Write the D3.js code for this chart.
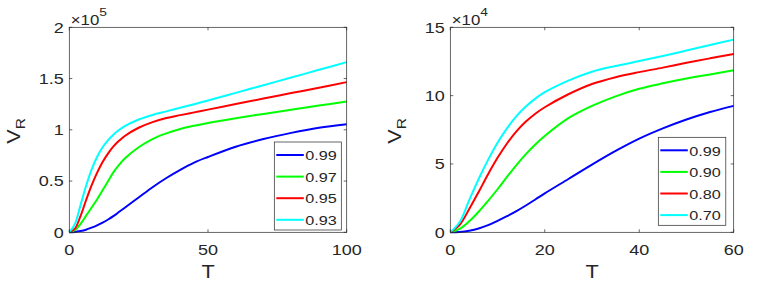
<!DOCTYPE html>
<html>
<head>
<meta charset="utf-8">
<script src="https://cdn.jsdelivr.net/npm/d3@7"></script>
<style>
  body { margin: 0; background: #fff; }
  svg text { font-family: "Liberation Sans", Arial, sans-serif; fill: #262626; }
</style>
</head>
<body>
<svg id="chart" width="762" height="286"></svg>
<script>
// left panel, values in units of 1e5
const tLeft = [0, 2, 4, 6, 8, 10, 12, 14, 16, 18, 20, 25, 30, 35, 40, 45, 50, 60, 70, 80, 90, 100];
const left099 = [0, 0.003, 0.012, 0.025, 0.045, 0.068, 0.095, 0.125, 0.16, 0.2, 0.24, 0.34, 0.44, 0.53, 0.61, 0.68, 0.735, 0.835, 0.91, 0.97, 1.02, 1.055];
const left097 = [0, 0.02, 0.08, 0.16, 0.24, 0.32, 0.41, 0.5, 0.59, 0.66, 0.72, 0.83, 0.91, 0.965, 1.008, 1.04, 1.067, 1.113, 1.155, 1.196, 1.236, 1.275];
const left095 = [0, 0.035, 0.155, 0.31, 0.455, 0.58, 0.685, 0.77, 0.84, 0.895, 0.94, 1.02, 1.075, 1.115, 1.143, 1.17, 1.197, 1.251, 1.305, 1.358, 1.411, 1.465];
const left093 = [0, 0.08, 0.26, 0.45, 0.61, 0.735, 0.83, 0.9, 0.955, 1.0, 1.035, 1.1, 1.145, 1.18, 1.215, 1.25, 1.285, 1.36, 1.435, 1.51, 1.585, 1.66];
const leftNames = ["0.99", "0.97", "0.95", "0.93"];
const leftXTicks = [0, 50, 100];
const leftYTicks = [0, 0.5, 1, 1.5, 2];

// right panel, values in units of 1e4
const tRight = [0, 2, 4, 6, 8, 10, 12, 14, 16, 18, 20, 25, 30, 35, 40, 45, 50, 55, 60];
const right099 = [0, 0.03, 0.12, 0.28, 0.52, 0.84, 1.18, 1.55, 1.96, 2.4, 2.85, 3.9, 4.95, 5.95, 6.85, 7.6, 8.25, 8.8, 9.25];
const right090 = [0, 0.25, 0.8, 1.5, 2.3, 3.15, 4.05, 4.92, 5.72, 6.43, 7.05, 8.35, 9.25, 9.95, 10.5, 10.9, 11.25, 11.55, 11.85];
const right080 = [0, 0.55, 1.7, 2.95, 4.25, 5.45, 6.5, 7.38, 8.1, 8.68, 9.15, 10.1, 10.85, 11.35, 11.72, 12.05, 12.4, 12.73, 13.05];
const right070 = [0, 0.75, 2.35, 3.9, 5.3, 6.55, 7.6, 8.5, 9.2, 9.78, 10.25, 11.1, 11.75, 12.17, 12.53, 12.9, 13.3, 13.7, 14.1];
const rightNames = ["0.99", "0.90", "0.80", "0.70"];
const rightXTicks = [0, 20, 40, 60];
const rightYTicks = [0, 5, 10, 15];

const colors = ["#0000ff", "#00ff00", "#ff0000", "#00ffff"];

const svg = d3.select("#chart");
const stretch = 1.2; // the reference text is a bit wider than Arial

function txt(parent, x, y, str, size, anchor, rot) {
  return parent.append("text")
    .attr("transform", `translate(${x},${y})${rot ? " rotate(-90)" : ""} scale(${stretch},1)`)
    .attr("text-anchor", anchor || "start")
    .style("font-size", size + "px")
    .text(str);
}

function drawPanel(p) {
  const { x0, x1, y0, y1 } = p.box;
  const x = d3.scaleLinear().domain(p.xDomain).range([x0, x1]);
  const y = d3.scaleLinear().domain(p.yDomain).range([y1, y0]);
  const g = svg.append("g");
  const tick = 3;
  const axisColor = "#262626";

  // curves
  const line = d3.line()
    .x((d) => x(d[0]))
    .y((d) => y(d[1]))
    .curve(d3.curveCatmullRom.alpha(0.5));
  p.series.forEach((vals, i) => {
    g.append("path")
      .datum(p.t.map((t, j) => [t, vals[j]]))
      .attr("fill", "none")
      .attr("stroke", colors[i])
      .attr("stroke-width", 2)
      .attr("d", line);
  });

  // box + ticks on all sides (inward)
  g.append("rect")
    .attr("x", x0).attr("y", y0)
    .attr("width", x1 - x0).attr("height", y1 - y0)
    .attr("fill", "none").attr("stroke", axisColor).attr("stroke-width", 0.7);

  p.xTicks.forEach((v) => {
    const px = x(v);
    g.append("line").attr("x1", px).attr("x2", px).attr("y1", y1).attr("y2", y1 - tick)
      .attr("stroke", axisColor).attr("stroke-width", 0.7);
    g.append("line").attr("x1", px).attr("x2", px).attr("y1", y0).attr("y2", y0 + tick)
      .attr("stroke", axisColor).attr("stroke-width", 0.7);
    txt(g, px, y1 + 22.5, v, 15, "middle");
  });
  p.yTicks.forEach((v) => {
    const py = y(v);
    g.append("line").attr("x1", x0).attr("x2", x0 + tick).attr("y1", py).attr("y2", py)
      .attr("stroke", axisColor).attr("stroke-width", 0.7);
    g.append("line").attr("x1", x1).attr("x2", x1 - tick).attr("y1", py).attr("y2", py)
      .attr("stroke", axisColor).attr("stroke-width", 0.7);
    txt(g, x0 - 5.5, py + 5.3, v, 15, "end");
  });

  // exponent
  const ex = txt(g, x0 + 1.5, 24.5, "", 14);
  ex.append("tspan").text("\u00d710");
  ex.append("tspan").attr("dy", -9).style("font-size", "11.5px").text(p.exp);

  // axis labels
  txt(g, (x0 + x1) / 2, 278, "T", 18, "middle");
  const yl = txt(g, x0 - 49, (y0 + y1) / 2 + 1, "", 18, "middle", true);
  yl.append("tspan").text("V");
  yl.append("tspan").attr("dy", 5).style("font-size", "13px").text("R");

  // legend
  const L = p.legend;
  g.append("rect")
    .attr("x", L.x).attr("y", L.y).attr("width", L.w).attr("height", L.h)
    .attr("fill", "#fff").attr("stroke", "#262626").attr("stroke-width", 0.7);
  p.names.forEach((name, i) => {
    const ry = L.y + 13 + i * 21.6;
    g.append("line")
      .attr("x1", L.x + 2).attr("x2", L.x + 29.5).attr("y1", ry).attr("y2", ry)
      .attr("stroke", colors[i]).attr("stroke-width", 2);
    txt(g, L.x + 31, ry + 5.2, name, 13.5);
  });
}

drawPanel({
  box: { x0: 69.3, x1: 346.7, y0: 27.3, y1: 232.3 },
  xDomain: [0, 100], yDomain: [0, 2],
  t: tLeft, series: [left099, left097, left095, left093],
  names: leftNames, xTicks: leftXTicks, yTicks: leftYTicks, exp: "5",
  legend: { x: 274.3, y: 142, w: 67, h: 88 },
});

drawPanel({
  box: { x0: 450.3, x1: 733.7, y0: 27.3, y1: 232.3 },
  xDomain: [0, 60], yDomain: [0, 15],
  t: tRight, series: [right099, right090, right080, right070],
  names: rightNames, xTicks: rightXTicks, yTicks: rightYTicks, exp: "4",
  legend: { x: 658.3, y: 137.3, w: 67.5, h: 88 },
});
</script>
</body>
</html>
